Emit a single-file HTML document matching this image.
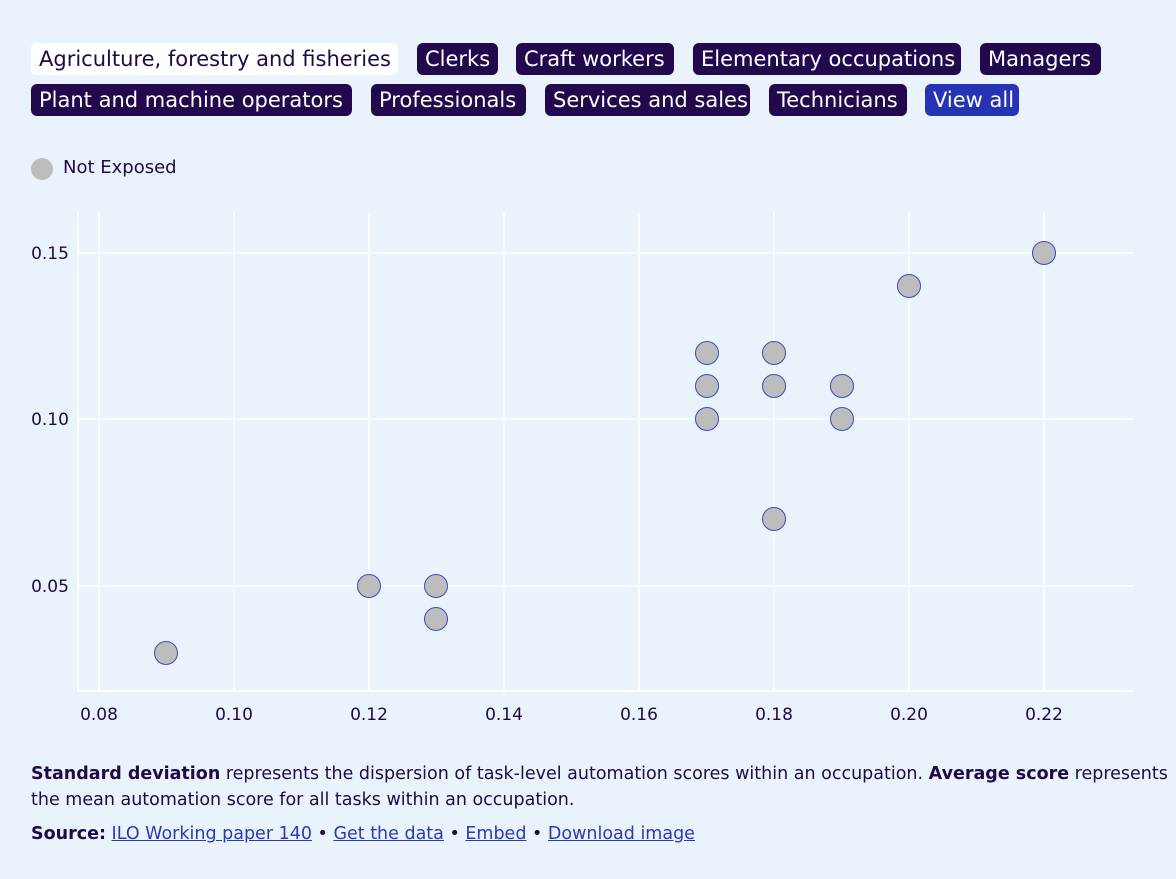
<!DOCTYPE html><html><head><style>
body{margin:0;width:1176px;height:879px;background:#eaf2fc;font-family:"DejaVu Sans","Liberation Sans",sans-serif;color:#1e0b45;overflow:hidden;position:relative}
.b{position:absolute;height:32px;line-height:32px;font-size:21px;padding:0 8px;border-radius:6px;background:#22084d;color:#fff;white-space:nowrap;box-sizing:border-box;overflow:hidden}
.w{background:#fff;color:#1e0b45}.v{background:#2434b5}
.t{position:absolute;font-size:17.5px;white-space:nowrap}
a{color:#2a3bb0;text-decoration:underline}
</style></head><body>
<div class="b w" style="left:31px;top:43px;width:367px">Agriculture, forestry and fisheries</div>
<div class="b" style="left:417px;top:43px;width:81px">Clerks</div>
<div class="b" style="left:516px;top:43px;width:158px">Craft workers</div>
<div class="b" style="left:693px;top:43px;width:268px">Elementary occupations</div>
<div class="b" style="left:980px;top:43px;width:121px">Managers</div>
<div class="b" style="left:31px;top:84px;width:321px">Plant and machine operators</div>
<div class="b" style="left:371px;top:84px;width:155px">Professionals</div>
<div class="b" style="left:545px;top:84px;width:205px">Services and sales</div>
<div class="b" style="left:769px;top:84px;width:138px">Technicians</div>
<div class="b v" style="left:925px;top:84px;width:94px">View all</div>
<div style="position:absolute;left:31px;top:158px;width:22px;height:22px;border-radius:50%;background:#bdbdbd"></div>
<div class="t" style="left:63px;top:157px;font-size:18px">Not Exposed</div>
<svg style="position:absolute;left:0;top:0" width="1176" height="879">
<g stroke="#fff" stroke-width="1.5">
<line x1="99" y1="213" x2="99" y2="691"/><line x1="234" y1="213" x2="234" y2="691"/><line x1="369" y1="213" x2="369" y2="691"/><line x1="504" y1="213" x2="504" y2="691"/><line x1="639" y1="213" x2="639" y2="691"/><line x1="774" y1="213" x2="774" y2="691"/><line x1="909" y1="213" x2="909" y2="691"/><line x1="1044" y1="213" x2="1044" y2="691"/>
<line x1="78" y1="253" x2="1133" y2="253"/><line x1="78" y1="419" x2="1133" y2="419"/><line x1="78" y1="586" x2="1133" y2="586"/>
<line x1="78" y1="213" x2="78" y2="691"/><line x1="78" y1="691" x2="1133" y2="691"/>
</g>
<g font-family="DejaVu Sans,Liberation Sans,sans-serif" font-size="17" fill="#1e0b45" text-anchor="middle">
<text x="99" y="720">0.08</text><text x="234" y="720">0.10</text><text x="369" y="720">0.12</text><text x="504" y="720">0.14</text><text x="639" y="720">0.16</text><text x="774" y="720">0.18</text><text x="909" y="720">0.20</text><text x="1044" y="720">0.22</text>
<text x="50" y="259">0.15</text><text x="50" y="425">0.10</text><text x="50" y="592">0.05</text>
</g>
<g fill="#bdbdbd" stroke="#3a4ac4" stroke-width="1">
<circle cx="166" cy="653" r="11.5"/><circle cx="369" cy="586" r="11.5"/><circle cx="436" cy="586" r="11.5"/><circle cx="436" cy="619" r="11.5"/>
<circle cx="707" cy="353" r="11.5"/><circle cx="707" cy="386" r="11.5"/><circle cx="707" cy="419" r="11.5"/>
<circle cx="774" cy="353" r="11.5"/><circle cx="774" cy="386" r="11.5"/><circle cx="774" cy="519" r="11.5"/>
<circle cx="842" cy="386" r="11.5"/><circle cx="842" cy="419" r="11.5"/><circle cx="909" cy="286" r="11.5"/><circle cx="1044" cy="253" r="11.5"/>
</g></svg>
<div class="t" style="left:31px;top:764px"><b>Standard deviation</b> represents the dispersion of task-level automation scores within an occupation. <b>Average score</b> represents</div>
<div class="t" style="left:31px;top:790px">the mean automation score for all tasks within an occupation.</div>
<div class="t" style="left:31px;top:824px"><b>Source:</b> <a>ILO Working paper 140</a> • <a>Get the data</a> • <a>Embed</a> • <a>Download image</a></div>
</body></html>
